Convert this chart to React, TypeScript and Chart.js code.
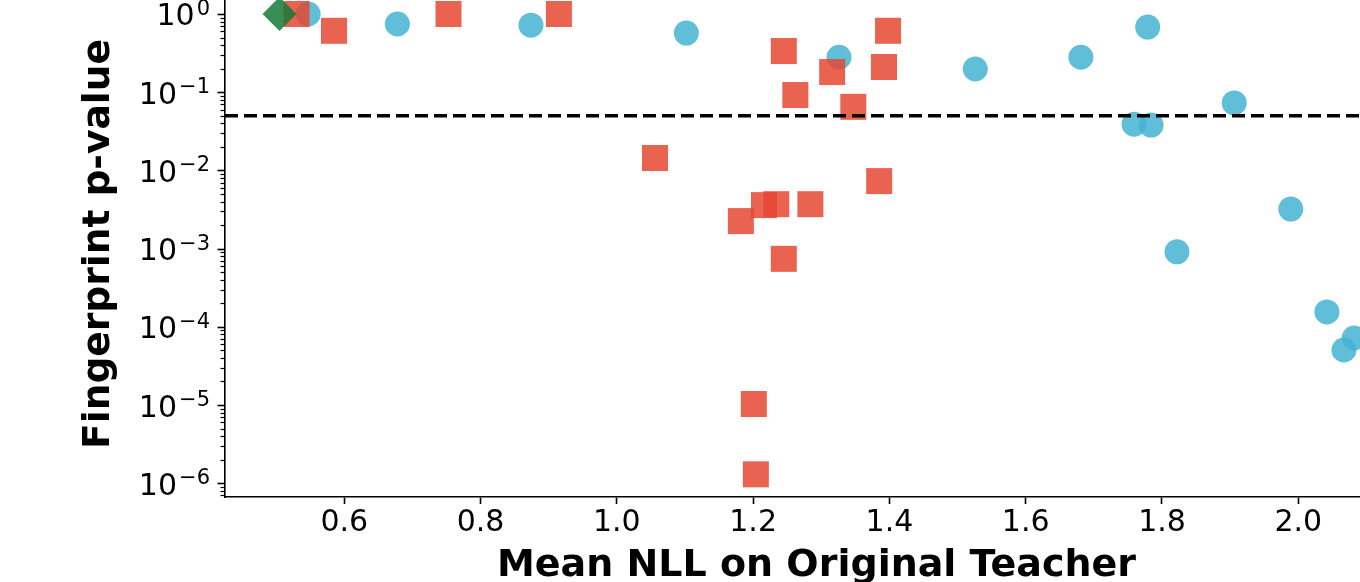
import React, { useEffect, useRef } from 'react';
import { Chart, registerables } from 'chart.js';

Chart.register(...registerables);

// ---- data ----
const xTickValues = [0.6, 0.8, 1.0, 1.2, 1.4, 1.6, 1.8, 2.0];
const yDecades = [-6, -5, -4, -3, -2, -1, 0];
const xRange = [0.425, 2.161];
const yRange = [6.67e-7, 1.968];
const threshold = 0.05;

const teacherX = [0.505];
const teacherY = [1.0];

const redX = [0.530, 0.585, 0.753, 0.915, 1.056, 1.182, 1.216, 1.234, 1.284, 1.245, 1.385, 1.201, 1.204, 1.245, 1.398, 1.392, 1.316, 1.262, 1.347];
const redY = [1.0, 0.61, 1.0, 1.0, 0.0144, 0.00225, 0.0036, 0.0037, 0.0037, 0.00074, 0.0073, 1.03e-5, 1.3e-6, 0.336, 0.61, 0.21, 0.181, 0.092, 0.065];

const blueX = [0.547, 0.678, 0.874, 1.102, 1.326, 1.526, 1.681, 1.779, 1.759, 1.784, 1.906, 1.989, 1.822, 2.042, 2.067, 2.082];
const blueY = [1.0, 0.745, 0.72, 0.57, 0.28, 0.198, 0.28, 0.68, 0.039, 0.038, 0.073, 0.0032, 0.00091, 0.000155, 0.0000505, 0.000072];

const FONT = '"DejaVu Sans", "Liberation Sans", sans-serif';

const zip = (xs: number[], ys: number[]) => xs.map((x, i) => ({ x, y: ys[i] }));

const logAxisPlugin = {
  id: 'logAxisDecor',
  afterDraw(chart: any) {
    const y = chart.scales.y;
    const ctx = chart.ctx;
    const axisX = chart.chartArea.left;
    ctx.save();
    ctx.strokeStyle = '#000';
    // major + minor ticks
    for (let e = yDecades[0] - 1; e <= yDecades[yDecades.length - 1]; e++) {
      for (let m = 1; m <= 9; m++) {
        const v = m * Math.pow(10, e);
        if (v < y.min || v > y.max) continue;
        const py = Math.round(y.getPixelForValue(v)) + 0.5;
        const major = m === 1;
        ctx.lineWidth = major ? 1.6 : 1.2;
        ctx.beginPath();
        ctx.moveTo(axisX - (major ? 7.5 : 4.5), py);
        ctx.lineTo(axisX, py);
        ctx.stroke();
      }
    }
    // labels 10^e
    ctx.fillStyle = '#000';
    ctx.textAlign = 'right';
    ctx.textBaseline = 'alphabetic';
    const rightX = axisX - 15;
    for (const e of yDecades) {
      const py = y.getPixelForValue(Math.pow(10, e));
      const expText = e < 0 ? '\u2212' + String(-e) : String(e);
      ctx.font = `21px ${FONT}`;
      const expW = ctx.measureText(expText).width;
      ctx.fillText(expText, rightX, py + 1);
      ctx.font = `30px ${FONT}`;
      ctx.fillText('10', rightX - expW - 2, py + 11.5);
    }
    ctx.restore();
  },
};

export default function App() {
  const ref = useRef<HTMLCanvasElement>(null);

  useEffect(() => {
    if (!ref.current) return;
    const chart = new Chart(ref.current, {
      type: 'scatter',
      data: {
        datasets: [
          {
            type: 'line',
            label: 'threshold',
            data: [
              { x: xRange[0], y: threshold },
              { x: xRange[1], y: threshold },
            ],
            borderColor: '#000',
            borderWidth: 3.5,
            borderDash: [13, 6],
            pointRadius: 0,
            fill: false,
          } as any,
          {
            label: 'Original teacher',
            data: zip(teacherX, teacherY),
            pointStyle: 'rectRot',
            pointRadius: 17,
            backgroundColor: 'rgba(22,122,56,0.85)',
            borderWidth: 0,
          },
          {
            label: 'Squares',
            data: zip(redX, redY),
            pointStyle: 'rect',
            pointRadius: 18.4,
            backgroundColor: 'rgba(230,72,50,0.85)',
            borderWidth: 0,
          },
          {
            label: 'Circles',
            data: zip(blueX, blueY),
            pointStyle: 'circle',
            pointRadius: 12.5,
            backgroundColor: 'rgba(68,179,210,0.85)',
            borderWidth: 0,
          },
        ],
      },
      plugins: [logAxisPlugin],
      options: {
        responsive: false,
        devicePixelRatio: 1,
        animation: false,
        layout: { padding: { top: 31, right: 72, left: 0, bottom: 0 } },
        plugins: {
          legend: { display: false },
          tooltip: { enabled: false },
        },
        scales: {
          x: {
            type: 'linear',
            min: xRange[0],
            max: xRange[1],
            afterBuildTicks: (s: any) => {
              s.ticks = xTickValues.map((v) => ({ value: v }));
            },
            afterFit: (s: any) => {
              s.height = 103;
            },
            ticks: {
              callback: (v: any) => Number(v).toFixed(1),
              font: { family: FONT, size: 30 },
              color: '#000',
              padding: 1,
              maxRotation: 0,
              autoSkip: false,
            },
            grid: {
              display: true,
              drawOnChartArea: false,
              drawTicks: true,
              tickLength: 7,
              tickWidth: 1.6,
              tickColor: '#000',
              color: '#000',
            },
            border: { display: true, color: '#000', width: 1.6 },
            title: {
              display: true,
              text: 'Mean NLL on Original Teacher',
              font: { family: FONT, size: 38, weight: 'bold' },
              color: '#000',
              padding: { top: 0, bottom: 11 },
            },
          },
          y: {
            type: 'logarithmic',
            min: yRange[0],
            max: yRange[1],
            afterFit: (s: any) => {
              s.width = 225;
            },
            ticks: { display: false },
            grid: { display: false },
            border: { display: true, color: '#000', width: 1.6 },
            title: {
              display: true,
              text: 'Fingerprint p-value',
              font: { family: FONT, size: 37.6, weight: 'bold' },
              color: '#000',
              padding: { top: 77, bottom: 0 },
            },
          },
        },
      } as any,
    });
    return () => chart.destroy();
  }, []);

  return (
    <div
      style={{
        position: 'fixed',
        left: 0,
        top: 0,
        width: 1360,
        height: 582,
        overflow: 'hidden',
        background: '#fff',
      }}
    >
      <canvas
        ref={ref}
        width={1480}
        height={640}
        style={{ position: 'absolute', left: 0, top: -40, width: 1480, height: 640 }}
      />
    </div>
  );
}
